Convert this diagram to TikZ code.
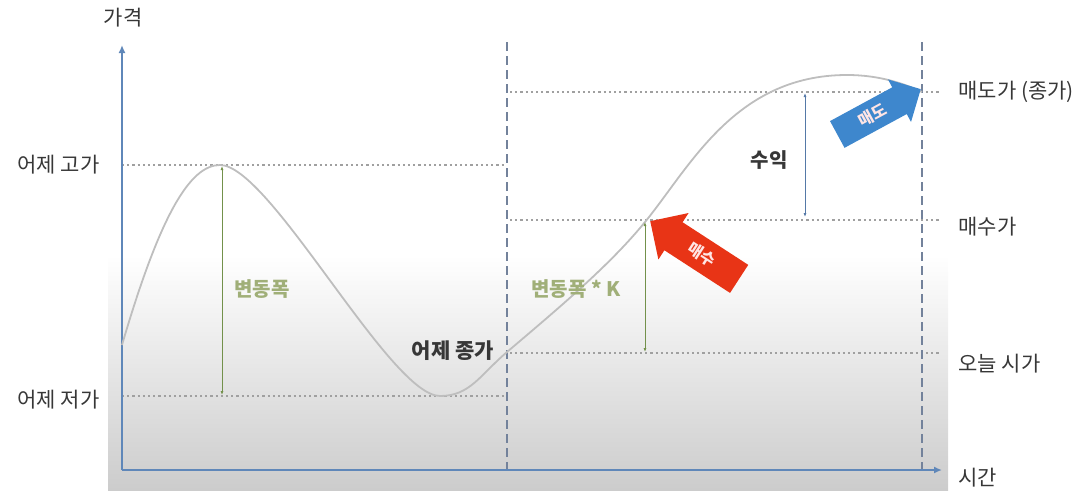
\documentclass[tikz,border=0pt]{standalone}
\usepackage{fontspec}
\setmainfont{Noto Sans CJK KR}
\usepackage{xcolor}
\usepackage{tikz}
\usetikzlibrary{arrows.meta, shapes.arrows, positioning}

\definecolor{axisblue}{RGB}{95,135,185}
\definecolor{guide}{RGB}{115,130,155}
\definecolor{dotgray}{RGB}{160,160,160}
\definecolor{curvegray}{RGB}{190,190,190}
\definecolor{rangegreen}{RGB}{115,145,75}
\definecolor{rangetext}{RGB}{160,175,120}
\definecolor{buyred}{RGB}{232,52,22}
\definecolor{sellblue}{RGB}{62,135,205}
\definecolor{labelgray}{RGB}{55,55,55}

\begin{document}
\begin{tikzpicture}[
    x=1pt, y=-1pt,
    priceaxis/.style={-{Latex[length=8pt,width=7pt]}, axisblue, line width=1.6pt},
    guideline/.style={guide, line width=1.2pt, dash pattern=on 9pt off 5pt},
    pricelevel/.style={dotgray, line width=1.1pt, dash pattern=on 2.2pt off 3pt},
    spanarrow/.style={{Latex[length=4pt,width=3pt]}-{Latex[length=4pt,width=3pt]}, rangegreen, line width=1pt},
    price/.style={font=\fontsize{21}{24}\selectfont, text=labelgray},
    spannote/.style={font=\fontsize{20}{24}\selectfont\bfseries, text=rangetext},
    fatarrow/.style={single arrow, shape border rotate=180, text=white!90!red, font=\fontsize{16}{18}\selectfont\bfseries, inner xsep=4pt}
]
    \useasboundingbox (0,0) rectangle (1090,493);
    \shade[top color=white, bottom color=black!20] (108,255) rectangle (948,490);

    \coordinate (origin) at (122,470);
    \coordinate (ytip) at (122,45);
    \coordinate (xtip) at (942,470);
    \coordinate (ytop) at (122,165);
    \coordinate (ylow) at (122,396);
    \coordinate (mtop) at (507,42);
    \coordinate (mbot) at (507,470);
    \coordinate (rtop) at (922,42);
    \coordinate (rbot) at (922,470);

    \draw [pricelevel] (ytop) -- (505,165);
    \draw [pricelevel] (ylow) -- (505,396);
    \draw [pricelevel] (510,92) -- (940,92);
    \draw [pricelevel] (510,220) -- (940,220);
    \draw [pricelevel] (510,353) -- (940,353);

    \draw [guideline] (mtop) -- (mbot);
    \draw [guideline] (rtop) -- (rbot);
    \draw [priceaxis] (origin) -- (ytip);
    \draw [priceaxis] (origin) -- (xtip);

    \draw [curvegray, line width=1.8pt] (122,345) .. controls (160,215) and (190,165) .. (220,165)
        .. controls (270,165) and (390,396) .. (440,396)
        .. controls (470,396) and (480,375) .. (507,352)
        .. controls (560,307) and (610,265) .. (645,222)
        .. controls (690,167) and (735,75) .. (847,75)
        .. controls (880,75) and (905,84) .. (922,92);

    \coordinate (hightip) at (222,166);
    \coordinate (lowtip) at (222,395);
    \coordinate (buytip) at (645,222);
    \coordinate (opentip) at (645,352);
    \coordinate (selltop) at (805,93);
    \coordinate (sellbot) at (805,217);
    \draw [spanarrow] (hightip) -- (lowtip);
    \draw [spanarrow] (buytip) -- (opentip);
    \draw [spanarrow, axisblue!90!black] (selltop) -- (sellbot);

    \node [price] (price) at (123,18) {가격};
    \node [price, anchor=west] (time) at (955,478) {시간};
    \node [price, anchor=east] (yhigh) at (103,165) {어제 고가};
    \node [price, anchor=east] (ylowlbl) at (103,400) {어제 저가};
    \node [price, anchor=west] (sellprice) at (955,92) {매도가 (종가)};
    \node [price, anchor=west] (buyprice) at (955,227) {매수가};
    \node [price, anchor=west] (openprice) at (955,364) {오늘 시가};

    \node [spannote] (range1) at (262,289) {변동폭};
    \node [spannote] (range2) at (576,289) {변동폭 * K};
    \node [price, font=\fontsize{21}{24}\selectfont\bfseries] (yclose) at (453,351) {어제 종가};
    \node [price, font=\fontsize{20}{24}\selectfont\bfseries] (profit) at (769,160) {수익};

    \node [fatarrow, fill=buyred, rotate=-33, anchor=tip, minimum height=106pt, inner ysep=9pt, single arrow head extend=11pt] (buy) at (650,221) {매수};
    \node [fatarrow, fill=sellblue, rotate=28.5, shape border rotate=0, anchor=tip, minimum height=95pt, inner ysep=7.5pt, single arrow head extend=9pt] (sell) at (921,89) {매도};
\end{tikzpicture}
\end{document}
